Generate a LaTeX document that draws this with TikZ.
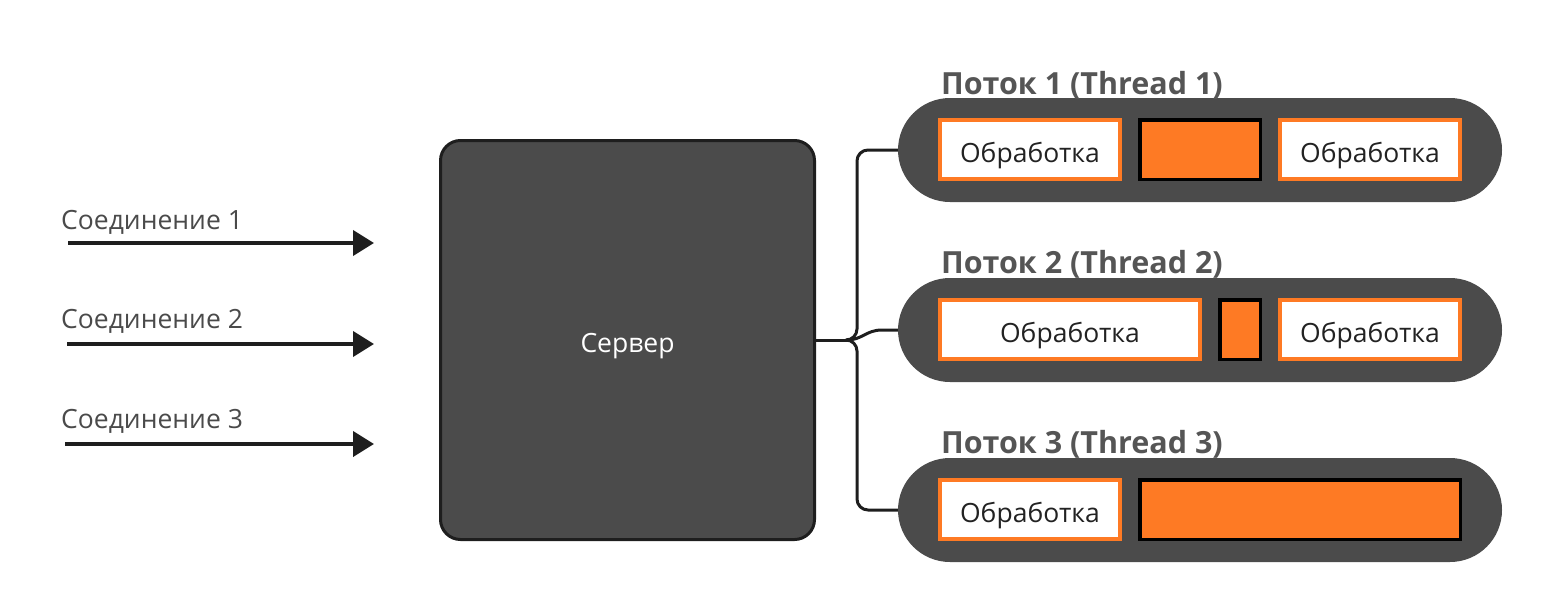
\documentclass[tikz,border=0pt]{standalone}
\usepackage{fontspec}
\setmainfont{Open Sans}
\usetikzlibrary{arrows.meta,calc}
\definecolor{dark}{HTML}{4B4B4B}
\definecolor{edge}{HTML}{1E1E1E}
\definecolor{orng}{HTML}{FE7A24}
\definecolor{titlegray}{HTML}{555555}
\definecolor{labgray}{HTML}{4A4A4A}
\definecolor{txt}{HTML}{222222}
\newcommand{\lowtext}[2]{\raisebox{-#1}[0pt][0pt]{#2}}
\tikzset{
  srvbox/.style={draw=edge,line width=3pt,fill=dark,rounded corners=20pt,minimum width=374pt,minimum height=399pt,inner sep=0pt,text=white,font=\fontsize{26.5}{30}\selectfont},
  pill/.style={fill=dark,rounded corners=52pt,minimum width=604pt,minimum height=104pt,inner sep=0pt},
  procbox/.style={draw=orng,line width=4pt,fill=white,minimum height=59pt,inner sep=0pt,text=txt,font=\fontsize{26.5}{30}\selectfont},
  busybox/.style={draw=black,line width=3.5pt,fill=orng,minimum height=59.5pt,inner sep=0pt},
  ttitle/.style={anchor=base west,inner sep=0pt,text=titlegray,font=\fontsize{30.5}{34}\selectfont\bfseries},
  conlabel/.style={anchor=base west,inner sep=0pt,text=labgray,font=\fontsize{26.5}{30}\selectfont},
  conn/.style={draw=edge,line width=3pt},
  arr/.style={draw=edge,line width=4pt,-{Triangle[length=21pt,width=25pt]}}
}
\begin{document}
\begin{tikzpicture}[x=1pt,y=-1pt]
\path[use as bounding box] (0,0) rectangle (1541,600);
% server
\node[srvbox] (srv) at (627.5,340) {\lowtext{12pt}{Сервер}};
% threads
\node[pill] (t1) at (1200,150) {};
\node[pill] (t2) at (1200,330) {};
\node[pill] (t3) at (1200,510) {};
\node[ttitle] (h1) at (941,94) {Поток 1 (Thread 1)};
\node[ttitle] (h2) at (941,273.5) {Поток 2 (Thread 2)};
\node[ttitle] (h3) at (941,453.5) {Поток 3 (Thread 3)};
% thread 1
\node[procbox,minimum width=180pt] (p11) at (1030,149.5) {\lowtext{12.5pt}{Обработка}};
\node[busybox,minimum width=120.5pt] (b12) at (1200,149.5) {};
\node[procbox,minimum width=180pt] (p13) at (1370,149.5) {\lowtext{12.5pt}{Обработка}};
% thread 2
\node[procbox,minimum width=260pt] (p21) at (1070,329.5) {\lowtext{12.5pt}{Обработка}};
\node[busybox,minimum width=40.5pt] (b22) at (1240,329.5) {};
\node[procbox,minimum width=180pt] (p23) at (1370,329.5) {\lowtext{12.5pt}{Обработка}};
% thread 3
\node[procbox,minimum width=180pt] (p31) at (1030,509.5) {\lowtext{12.5pt}{Обработка}};
\node[busybox,minimum width=320.5pt] (b32) at (1300,509.5) {};
% connector brace
\coordinate (fork) at ([xshift=31pt]srv.east);
\draw[conn] (srv.east) -- (fork);
\draw[conn,rounded corners=11pt] (fork) -| (857,150) -- (t1.west);
\draw[conn,rounded corners=11pt] (fork) -| (857,510) -- (t3.west);
\draw[conn] (fork) .. controls (862,340) and (866,330) .. (882,330) -- (t2.west);
% connections
\node[conlabel] (l1) at (61,229) {Соединение 1};
\node[conlabel] (l2) at (61,328.5) {Соединение 2};
\node[conlabel] (l3) at (61,428.5) {Соединение 3};
\coordinate (s1) at (68,243); \coordinate (e1) at (374,243);
\coordinate (s2) at (67,344); \coordinate (e2) at (374,344);
\coordinate (s3) at (65,444); \coordinate (e3) at (374,444);
\draw[arr] (s1) -- (e1);
\draw[arr] (s2) -- (e2);
\draw[arr] (s3) -- (e3);
\end{tikzpicture}
\end{document}
